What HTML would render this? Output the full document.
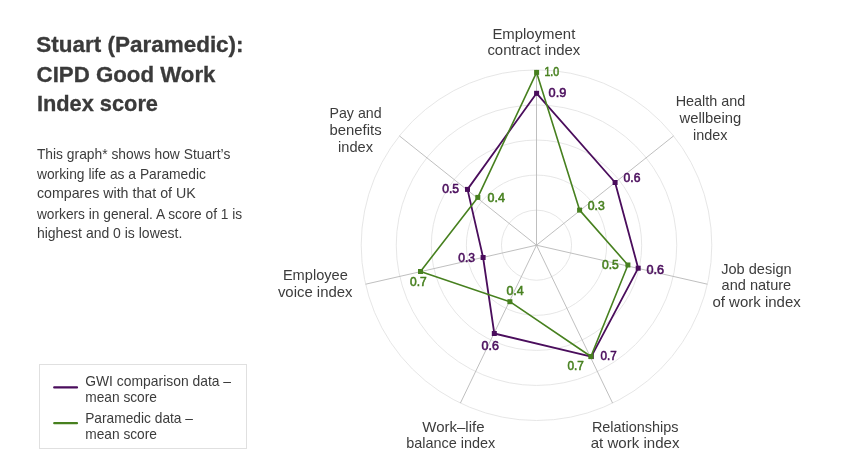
<!DOCTYPE html>
<html><head><meta charset="utf-8"><title>CIPD Good Work Index</title>
<style>html,body{margin:0;padding:0;background:#fff;}body{width:844px;height:475px;overflow:hidden;}svg{display:block;will-change:transform;}text{font-family:"Liberation Sans",sans-serif;}</style></head><body>
<svg width="844" height="475" viewBox="0 0 844 475">
<rect width="844" height="475" fill="#fff"/>
<g fill="none" stroke="#e3e3e3" stroke-width="0.9">
<circle cx="536.5" cy="245.2" r="35.06"/>
<circle cx="536.5" cy="245.2" r="70.12"/>
<circle cx="536.5" cy="245.2" r="105.18"/>
<circle cx="536.5" cy="245.2" r="140.24"/>
<circle cx="536.5" cy="245.2" r="175.30"/>
</g>
<g stroke="#b8b8b8" stroke-width="0.9">
<line x1="536.5" y1="245.2" x2="536.5" y2="69.9"/>
<line x1="536.5" y1="245.2" x2="673.6" y2="135.9"/>
<line x1="536.5" y1="245.2" x2="707.4" y2="284.2"/>
<line x1="536.5" y1="245.2" x2="612.6" y2="403.1"/>
<line x1="536.5" y1="245.2" x2="460.4" y2="403.1"/>
<line x1="536.5" y1="245.2" x2="365.6" y2="284.2"/>
<line x1="536.5" y1="245.2" x2="399.4" y2="135.9"/>
</g>
<polygon points="536.6,93.3 615.1,182.5 638.2,268.2 591.3,356.6 494.3,333.5 483.1,257.5 467.5,189.4" fill="none" stroke="#4a0d5c" stroke-width="1.8" stroke-linejoin="round"/><g fill="#4a0d5c"><rect x="534.1" y="90.8" width="5" height="5"/><rect x="612.6" y="180.0" width="5" height="5"/><rect x="635.7" y="265.7" width="5" height="5"/><rect x="588.8" y="354.1" width="5" height="5"/><rect x="491.8" y="331.0" width="5" height="5"/><rect x="480.6" y="255.0" width="5" height="5"/><rect x="465.0" y="186.9" width="5" height="5"/></g>
<polygon points="536.6,72.4 579.6,210.1 627.9,265.0 590.9,356.5 509.9,301.7 420.5,271.5 477.8,197.4" fill="none" stroke="#47801f" stroke-width="1.6" stroke-linejoin="round"/><g fill="#47801f"><rect x="534.1" y="69.9" width="5" height="5"/><rect x="577.1" y="207.6" width="5" height="5"/><rect x="625.4" y="262.5" width="5" height="5"/><rect x="588.4" y="354.0" width="5" height="5"/><rect x="507.4" y="299.2" width="5" height="5"/><rect x="418.0" y="269.0" width="5" height="5"/><rect x="475.3" y="194.9" width="5" height="5"/></g>
<g font-size="12" stroke-width="0.55">
<text x="544.4" y="75.5" fill="#47801f" stroke="#47801f" textLength="14.7" lengthAdjust="spacingAndGlyphs">1.0</text>
<text x="548.6" y="96.7" fill="#4a0d5c" stroke="#4a0d5c" textLength="17.7" lengthAdjust="spacingAndGlyphs">0.9</text>
<text x="623.5" y="181.5" fill="#4a0d5c" stroke="#4a0d5c" textLength="16.9" lengthAdjust="spacingAndGlyphs">0.6</text>
<text x="587.8" y="209.9" fill="#47801f" stroke="#47801f" textLength="17.0" lengthAdjust="spacingAndGlyphs">0.3</text>
<text x="602.0" y="268.8" fill="#47801f" stroke="#47801f" textLength="16.8" lengthAdjust="spacingAndGlyphs">0.5</text>
<text x="646.4" y="273.6" fill="#4a0d5c" stroke="#4a0d5c" textLength="17.6" lengthAdjust="spacingAndGlyphs">0.6</text>
<text x="600.5" y="360.3" fill="#4a0d5c" stroke="#4a0d5c" textLength="16.2" lengthAdjust="spacingAndGlyphs">0.7</text>
<text x="567.4" y="370.4" fill="#47801f" stroke="#47801f" textLength="16.4" lengthAdjust="spacingAndGlyphs">0.7</text>
<text x="506.4" y="294.5" fill="#47801f" stroke="#47801f" textLength="17.3" lengthAdjust="spacingAndGlyphs">0.4</text>
<text x="481.5" y="349.5" fill="#4a0d5c" stroke="#4a0d5c" textLength="17.3" lengthAdjust="spacingAndGlyphs">0.6</text>
<text x="458.3" y="261.5" fill="#4a0d5c" stroke="#4a0d5c" textLength="16.8" lengthAdjust="spacingAndGlyphs">0.3</text>
<text x="410.1" y="285.5" fill="#47801f" stroke="#47801f" textLength="16.7" lengthAdjust="spacingAndGlyphs">0.7</text>
<text x="442.3" y="193.2" fill="#4a0d5c" stroke="#4a0d5c" textLength="16.8" lengthAdjust="spacingAndGlyphs">0.5</text>
<text x="487.5" y="201.7" fill="#47801f" stroke="#47801f" textLength="17.3" lengthAdjust="spacingAndGlyphs">0.4</text>
</g>
<g font-size="14.2" fill="#3c3c3c">
<text x="492.4" y="38.6" textLength="82.9" lengthAdjust="spacingAndGlyphs">Employment</text>
<text x="487.4" y="54.5" textLength="92.9" lengthAdjust="spacingAndGlyphs">contract index</text>
<text x="675.7" y="105.7" textLength="69.7" lengthAdjust="spacingAndGlyphs">Health and</text>
<text x="679.5" y="122.7" textLength="61.7" lengthAdjust="spacingAndGlyphs">wellbeing</text>
<text x="693.1" y="140.0" textLength="34.5" lengthAdjust="spacingAndGlyphs">index</text>
<text x="721.2" y="273.6" textLength="70.4" lengthAdjust="spacingAndGlyphs">Job design</text>
<text x="721.6" y="290.2" textLength="69.6" lengthAdjust="spacingAndGlyphs">and nature</text>
<text x="712.4" y="307.2" textLength="88.4" lengthAdjust="spacingAndGlyphs">of work index</text>
<text x="591.9" y="431.6" textLength="86.7" lengthAdjust="spacingAndGlyphs">Relationships</text>
<text x="590.7" y="447.5" textLength="88.8" lengthAdjust="spacingAndGlyphs">at work index</text>
<text x="422.3" y="431.6" textLength="62.2" lengthAdjust="spacingAndGlyphs">Work–life</text>
<text x="406.2" y="447.5" textLength="89.1" lengthAdjust="spacingAndGlyphs">balance index</text>
<text x="282.9" y="279.9" textLength="64.9" lengthAdjust="spacingAndGlyphs">Employee</text>
<text x="277.9" y="296.5" textLength="74.6" lengthAdjust="spacingAndGlyphs">voice index</text>
<text x="329.5" y="117.6" textLength="52.1" lengthAdjust="spacingAndGlyphs">Pay and</text>
<text x="329.5" y="134.5" textLength="52.1" lengthAdjust="spacingAndGlyphs">benefits</text>
<text x="338.1" y="151.9" textLength="34.9" lengthAdjust="spacingAndGlyphs">index</text>
</g>
<g font-size="22" font-weight="bold" fill="#3a3a3a" stroke="#3a3a3a" stroke-width="0.3">
<text x="36.3" y="52.4" textLength="207.3" lengthAdjust="spacingAndGlyphs">Stuart (Paramedic):</text>
<text x="36.6" y="81.5" textLength="178.9" lengthAdjust="spacingAndGlyphs">CIPD Good Work</text>
<text x="36.9" y="110.6" textLength="121.1" lengthAdjust="spacingAndGlyphs">Index score</text>
</g>
<g font-size="14.8" fill="#3c3c3c">
<text x="36.9" y="158.7" textLength="193.4" lengthAdjust="spacingAndGlyphs">This graph* shows how Stuart’s</text>
<text x="36.9" y="178.5" textLength="169.1" lengthAdjust="spacingAndGlyphs">working life as a Paramedic</text>
<text x="36.9" y="198.4" textLength="158.8" lengthAdjust="spacingAndGlyphs">compares with that of UK</text>
<text x="36.9" y="218.5" textLength="205.3" lengthAdjust="spacingAndGlyphs">workers in general. A score of 1 is</text>
<text x="36.9" y="238.1" textLength="145.4" lengthAdjust="spacingAndGlyphs">highest and 0 is lowest.</text>
</g>
<rect x="39.5" y="364.5" width="207" height="84" fill="#fff" stroke="#e0e0e0" stroke-width="1"/>
<line x1="54.2" y1="387.4" x2="77" y2="387.4" stroke="#4a0d5c" stroke-width="2.2" stroke-linecap="round"/>
<line x1="54.2" y1="423.2" x2="77" y2="423.2" stroke="#47801f" stroke-width="2.2" stroke-linecap="round"/>
<g font-size="14.6" fill="#3c3c3c">
<text x="85.2" y="386.0" textLength="145.9" lengthAdjust="spacingAndGlyphs">GWI comparison data –</text>
<text x="85.2" y="401.9" textLength="71.8" lengthAdjust="spacingAndGlyphs">mean score</text>
<text x="85.2" y="422.5" textLength="107.8" lengthAdjust="spacingAndGlyphs">Paramedic data –</text>
<text x="85.2" y="438.8" textLength="71.8" lengthAdjust="spacingAndGlyphs">mean score</text>
</g>
</svg></body></html>
